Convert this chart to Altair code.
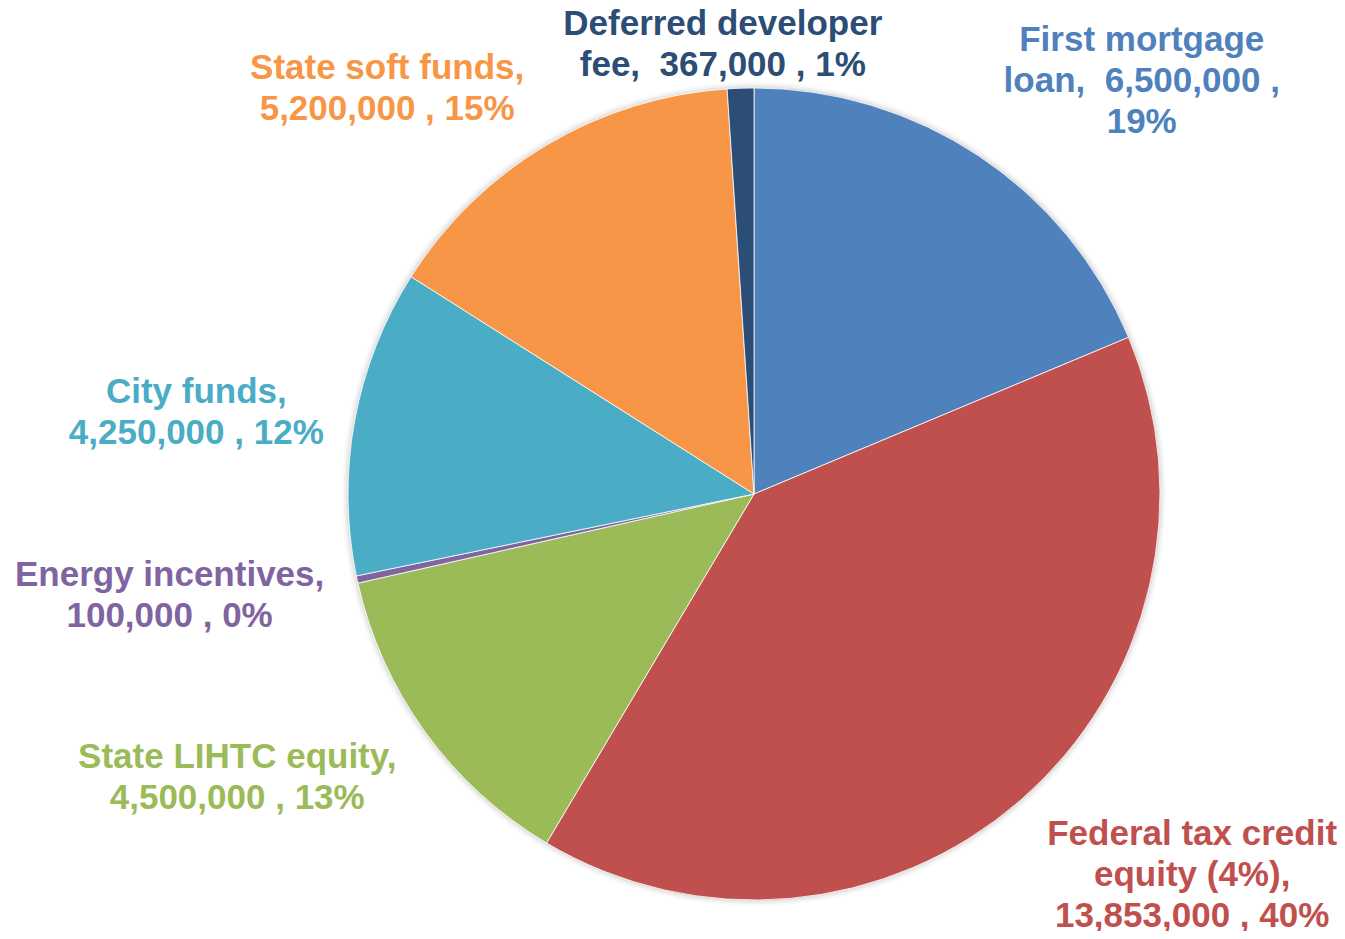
import altair as alt
import pandas as pd

categories = [
    "First mortgage loan",
    "Federal tax credit equity (4%)",
    "State LIHTC equity",
    "Energy incentives",
    "City funds",
    "State soft funds",
    "Deferred developer fee",
]
values = [6500000, 13853000, 4500000, 100000, 4250000, 5200000, 367000]
colors = ["#4F81BD", "#C0504D", "#9BBB59", "#8064A2", "#4BACC6", "#F79646", "#2C4D75"]
label_lines = [
    ["First mortgage", "loan,\u00a0 6,500,000 ,", "19%"],
    ["Federal tax credit", "equity (4%),", "13,853,000 , 40%"],
    ["State LIHTC equity,", "4,500,000 , 13%"],
    ["Energy incentives,", "100,000 , 0%"],
    ["City funds,", "4,250,000 , 12%"],
    ["State soft funds,", "5,200,000 , 15%"],
    ["Deferred developer", "fee,\u00a0 367,000 , 1%"],
]
# label placement (layout): first-line anchor, angle from 12 o'clock clockwise and distance from centre in px
label_angle = [40.5, 127.8, 243.0, 262.1, 280.4, 319.25, 356.2]
label_radius = [597, 554.5, 580, 590, 567, 562, 471]

df = pd.DataFrame({
    "category": categories,
    "value": values,
    "idx": list(range(len(categories))),
    "label": ["\n".join(l) for l in label_lines],
    "langle": label_angle,
    "lrad": label_radius,
})

CX, CY = 746, 486
R = 406
color_scale = alt.Scale(domain=categories, range=colors)

shadow_df = pd.DataFrame({"s": [1]})
shadows = [
    alt.Chart(shadow_df).mark_arc(radius=R + d, theta=0, theta2=6.2832, color="#000000", opacity=op).encode(
        x=alt.value(CX), y=alt.value(CY)
    )
    for d, op in [(6, 0.025), (4, 0.035), (2, 0.05)]
]

arcs = alt.Chart(df).mark_arc(radius=R, stroke="white", strokeWidth=0.8).encode(
    theta=alt.Theta("value:Q", stack=True),
    order=alt.Order("idx:Q"),
    color=alt.Color("category:N", scale=color_scale, legend=None),
    x=alt.value(CX),
    y=alt.value(CY),
)

texts = alt.Chart(df).mark_text(
    font="Liberation Sans", fontWeight="bold", fontSize=35, lineHeight=41,
    lineBreak="\n", align="center", baseline="middle",
).encode(
    theta=alt.Theta("langle:Q", stack=False, scale=alt.Scale(domain=[0, 360], range=[0, 6.283185307])),
    radius=alt.Radius("lrad:Q", scale=alt.Scale(type="linear", domain=[0, 1000], range=[0, 1000], zero=True)),
    text="label:N",
    color=alt.Color("category:N", scale=color_scale, legend=None),
    x=alt.value(CX),
    y=alt.value(CY),
)

chart = alt.layer(*shadows, arcs, texts).resolve_scale(theta="independent").properties(
    width=1329, height=923, padding=0,
    autosize=alt.AutoSizeParams(type="none"),
).configure_view(stroke=None)

chart.save("out.html", embed_options={"renderer": "svg", "actions": False})
